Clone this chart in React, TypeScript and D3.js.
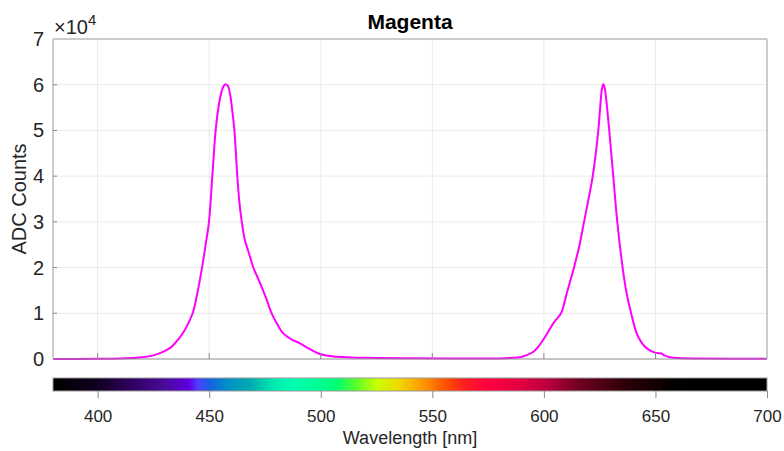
import * as d3 from "d3";
import React, { useRef, useEffect } from "react";

// spectrum: wavelength [nm] -> ADC counts
const wavelengths = [
  380, 400, 410, 415, 420, 425, 429, 433, 436, 439, 442.6, 444.5, 446.8, 448.4,
  449.9, 451.4, 452.9, 454.3, 455.6, 456.6, 457.5, 458.4, 459.4, 460.3, 461.3,
  462.6, 463.5, 464.6, 466, 467.4, 469.8, 472.8, 475.5, 478, 480.5, 483.2,
  486.5, 490.7, 495, 499.7, 505, 511.6, 520, 540, 560, 580, 586, 589.3, 592,
  595.3, 597.5, 599.7, 602, 604.2, 606, 607.7, 610.5, 613.5, 616, 618, 620,
  621.9, 624.4, 625.3, 626, 626.6, 627.2, 628, 629.3, 631.1, 632.9, 635.3, 637,
  639.1, 641.6, 643.5, 645.3, 647.5, 649.8, 651.5, 652.8, 654, 656.5, 660, 670,
  700,
];
const counts = [
  0, 30, 100, 200, 370, 800, 1500, 2600, 4200, 6300, 10000, 14000, 20000, 25000,
  30000, 40000, 50000, 55500, 58600, 59800, 60100, 59700, 57800, 54500, 50000,
  40000, 34500, 30000, 26000, 23800, 20000, 16600, 13300, 10000, 7600, 5600,
  4400, 3400, 2200, 1100, 600, 400, 250, 150, 120, 130, 260, 400, 800, 1600,
  2700, 4200, 6000, 7800, 8900, 10000, 14800, 20000, 25000, 30000, 35000,
  40000, 50000, 55500, 59000, 60100, 59400, 56500, 50000, 40000, 30000, 20000,
  14600, 10000, 5600, 3800, 2700, 1900, 1400, 1250, 1200, 800, 400, 200, 100,
  50,
];

const xTicks = [400, 450, 500, 550, 600, 650, 700];
const yTicks = [0, 1, 2, 3, 4, 5, 6, 7];

// visible-spectrum colour bar stops
const barWavelengths = [
  380, 400, 415, 430, 441, 445, 450, 458, 468, 480, 488, 500, 507, 515, 525,
  535, 547, 556, 564, 575, 590, 600, 616, 635, 655, 665, 700,
];
const barColors = [
  "#000000", "#100020", "#300060", "#4a0a9a", "#6000e0", "#5040ff", "#1560e0",
  "#0090c8", "#00a8b0", "#00f0b0", "#00ffb0", "#00ff90", "#00ff70", "#50ff30",
  "#c8ff00", "#f0d800", "#ff9000", "#ff5000", "#ff2020", "#ff0040", "#e00040",
  "#c00040", "#700020", "#300008", "#080000", "#000000", "#000000",
];

const W = 784;
const H = 451;
const left = 53;
const right = 767;
const top = 39;
const bottom = 359;
const barTop = 378;
const barBottom = 391;
const font = "'Liberation Sans', Arial, sans-serif";
const textColor = "#262626";

export default function App() {
  const ref = useRef<SVGSVGElement>(null);

  useEffect(() => {
    const svg = d3.select(ref.current);
    svg.selectAll("*").remove();

    const x = d3.scaleLinear().domain([380, 700]).range([left, right]);
    const y = d3.scaleLinear().domain([0, 70000]).range([bottom, top]);

    // grid
    const grid = svg.append("g");
    grid
      .selectAll("line.gx")
      .data(xTicks.slice(0, -1))
      .enter()
      .append("line")
      .attr("x1", (d) => x(d))
      .attr("x2", (d) => x(d))
      .attr("y1", top)
      .attr("y2", bottom)
      .attr("stroke", "#ebebeb");
    grid
      .selectAll("line.gy")
      .data(yTicks.slice(1, -1))
      .enter()
      .append("line")
      .attr("x1", left)
      .attr("x2", right)
      .attr("y1", (d) => y(d * 1e4))
      .attr("y2", (d) => y(d * 1e4))
      .attr("stroke", "#ebebeb");

    // curve
    const pts = wavelengths.map((w, i) => [w, counts[i]] as [number, number]);
    const line = d3
      .line<[number, number]>()
      .x((d) => x(d[0]))
      .y((d) => y(d[1]))
      .curve(d3.curveCatmullRom.alpha(0.5));
    svg
      .append("path")
      .datum(pts)
      .attr("d", line)
      .attr("fill", "none")
      .attr("stroke", "#ff00ff")
      .attr("stroke-width", 2);

    // box + ticks
    const box = svg.append("g").attr("fill", "none");
    box.append("line").attr("x1", left).attr("x2", right).attr("y1", top).attr("y2", top).attr("stroke", "#999");
    box.append("line").attr("x1", left).attr("x2", right).attr("y1", bottom).attr("y2", bottom).attr("stroke", "#8a8a8a");
    box.append("line").attr("x1", left).attr("x2", left).attr("y1", top).attr("y2", bottom).attr("stroke", "#bdbdbd").attr("stroke-width", 1.5);
    box.append("line").attr("x1", right).attr("x2", right).attr("y1", top).attr("y2", bottom).attr("stroke", "#bdbdbd").attr("stroke-width", 1.5);
    box
      .selectAll("line.tx")
      .data(xTicks.slice(0, -1))
      .enter()
      .append("line")
      .attr("x1", (d) => x(d))
      .attr("x2", (d) => x(d))
      .attr("y1", bottom)
      .attr("y2", bottom - 6)
      .attr("stroke", "#8a8a8a");
    box
      .selectAll("line.ty")
      .data(yTicks.slice(1, -1))
      .enter()
      .append("line")
      .attr("x1", left)
      .attr("x2", left + 4)
      .attr("y1", (d) => y(d * 1e4))
      .attr("y2", (d) => y(d * 1e4))
      .attr("stroke", "#8a8a8a");

    // y tick labels
    svg
      .append("g")
      .selectAll("text")
      .data(yTicks)
      .enter()
      .append("text")
      .attr("x", left - 9)
      .attr("y", (d) => y(d * 1e4) + 7)
      .attr("text-anchor", "end")
      .attr("font-family", font)
      .attr("font-size", 20)
      .attr("fill", textColor)
      .text((d) => d);

    // exponent
    const ex = svg
      .append("text")
      .attr("x", left + 1)
      .attr("y", 34)
      .attr("font-family", font)
      .attr("font-size", 20)
      .attr("fill", textColor);
    ex.append("tspan").text("\u00d710");
    ex.append("tspan").attr("dy", -9).attr("font-size", 15).text("4");

    // colour bar
    const defs = svg.append("defs");
    const grad = defs
      .append("linearGradient")
      .attr("id", "spec")
      .attr("gradientUnits", "userSpaceOnUse")
      .attr("x1", x(380))
      .attr("x2", x(700))
      .attr("y1", 0)
      .attr("y2", 0);
    grad
      .selectAll("stop")
      .data(barWavelengths)
      .enter()
      .append("stop")
      .attr("offset", (d) => (x(d) - x(380)) / (x(700) - x(380)))
      .attr("stop-color", (d, i) => barColors[i]);
    svg
      .append("rect")
      .attr("x", left)
      .attr("y", barTop)
      .attr("width", right - left)
      .attr("height", barBottom - barTop)
      .attr("fill", "url(#spec)")
      .attr("stroke", "#999");

    const xAxis = d3
      .axisBottom(x)
      .tickValues(xTicks)
      .tickSize(7)
      .tickSizeOuter(0)
      .tickPadding(12);
    const ax = svg
      .append("g")
      .attr("transform", `translate(0, ${barBottom})`)
      .call(xAxis);
    ax.select(".domain").remove();
    ax.selectAll("line").attr("stroke", "#8a8a8a");
    ax.selectAll("text")
      .attr("font-family", font)
      .attr("font-size", 17)
      .attr("fill", textColor);

    // labels
    svg
      .append("text")
      .attr("x", (left + right) / 2)
      .attr("y", 29)
      .attr("text-anchor", "middle")
      .attr("font-family", font)
      .attr("font-size", 21)
      .attr("font-weight", "bold")
      .attr("fill", "#000")
      .text("Magenta");
    svg
      .append("text")
      .attr("x", (left + right) / 2)
      .attr("y", 444)
      .attr("text-anchor", "middle")
      .attr("font-family", font)
      .attr("font-size", 18)
      .attr("fill", textColor)
      .text("Wavelength [nm]");
    svg
      .append("text")
      .attr("transform", `translate(26, ${(top + bottom) / 2}) rotate(-90)`)
      .attr("text-anchor", "middle")
      .attr("font-family", font)
      .attr("font-size", 20)
      .attr("fill", textColor)
      .text("ADC Counts");
  }, []);

  return (
    <svg
      ref={ref}
      width={W}
      height={H}
      style={{ position: "absolute", left: 0, top: 0, background: "#fff" }}
    ></svg>
  );
}
